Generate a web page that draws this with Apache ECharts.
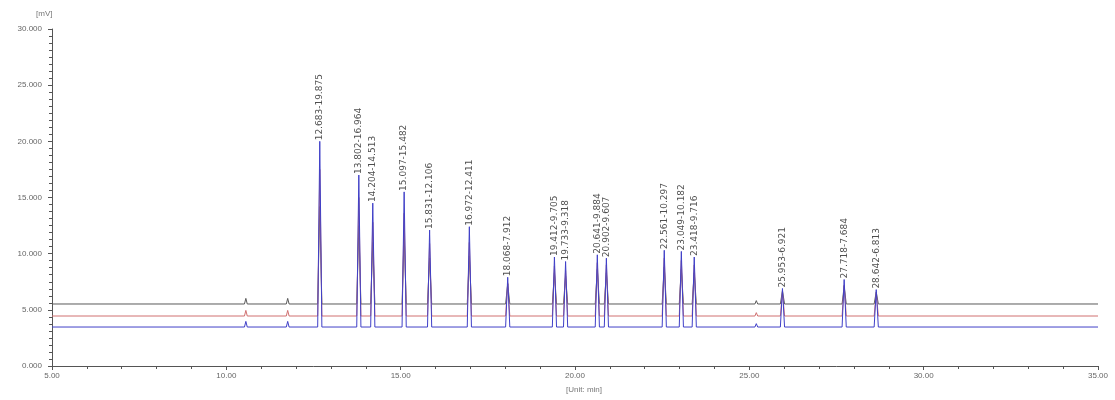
<!DOCTYPE html>
<html><head><meta charset="utf-8">
<script src="https://cdn.jsdelivr.net/npm/echarts@6/dist/echarts.min.js"></script>
<style>html,body{margin:0;padding:0;background:#fff}#c{width:1115px;height:400px}</style>
</head><body><div id="c"></div>
<script>
// retention times (min) of labelled peaks
const peakTimes = [12.68,13.80,14.20,15.10,15.83,16.97,18.07,19.41,19.73,20.64,20.90,22.56,23.05,23.42,25.95,27.72,28.64];
// apex signal (mV) per trace
const blueApex  = [20.0,17.0,14.5,15.5,12.1,12.4,7.9,9.7,9.3,9.9,9.6,10.3,10.2,9.7,6.9,7.7,6.8];
const redApex   = [17.5,15.0,12.8,13.6,10.9,11.0,7.4,8.9,8.5,9.2,9.0,9.6,9.4,9.0,6.6,7.2,6.5];
const blackApex = [14.2,12.5,11.0,11.8,9.6,9.8,7.3,8.3,8.0,8.6,8.3,8.8,8.6,8.3,6.7,7.1,6.6];
// peak labels
const peakLabels = ["12.683-19.875","13.802-16.964","14.204-14.513","15.097-15.482","15.831-12.106","16.972-12.411","18.068-7.912","19.412-9.705","19.733-9.318","20.641-9.884","20.902-9.607","22.561-10.297","23.049-10.182","23.418-9.716","25.953-6.921","27.718-7.684","28.642-6.813"];
// small unlabelled spikes
const smallTimes = [10.56,11.76,25.20];
const smallRise  = [0.5,0.5,0.3];
// baselines (mV)
const baseBlack = 5.52, baseRed = 4.45, baseBlue = 3.47;
const xTicks = [5,10,15,20,25,30,35];
const yTicks = [0,5,10,15,20,25,30];

function trace(base, apex){
  const ev = [];
  peakTimes.forEach((t,i)=>ev.push([t, apex[i], 0.06]));
  smallTimes.forEach((t,i)=>ev.push([t, base+smallRise[i], 0.04]));
  ev.sort((a,b)=>a[0]-b[0]);
  const d = [[xTicks[0], base]];
  ev.forEach(e=>{ d.push([e[0]-e[2], base]); d.push([e[0], e[1]]); d.push([e[0]+e[2], base]); });
  d.push([xTicks[xTicks.length-1], base]);
  return d;
}
const chart = echarts.init(document.getElementById('c'));
const lineS = (name, data, color) => ({type:'line', name, data, symbol:'none', lineStyle:{width:1, color}, animation:false, z:2});
chart.setOption({
  backgroundColor:'#fff',
  animation:false,
  grid:{left:52,right:17,top:29,bottom:34},
  xAxis:{type:'value',min:xTicks[0],max:xTicks[xTicks.length-1],interval:5,
    axisLine:{lineStyle:{color:'#555',width:1}},
    axisTick:{show:true,length:4,lineStyle:{color:'#555'}},
    minorTick:{show:true,splitNumber:5,length:3,lineStyle:{color:'#555'}},
    splitLine:{show:false},
    axisLabel:{color:'#666',fontSize:8,margin:6,formatter:v=>v.toFixed(2)}},
  yAxis:{type:'value',min:yTicks[0],max:yTicks[yTicks.length-1],interval:5,
    axisLine:{show:true,lineStyle:{color:'#555',width:1}},
    axisTick:{show:true,length:4,lineStyle:{color:'#555'}},
    minorTick:{show:true,splitNumber:8,length:3,lineStyle:{color:'#555'}},
    splitLine:{show:false},
    axisLabel:{color:'#666',fontSize:8,margin:10,formatter:v=>v.toFixed(3)}},
  graphic:[
    {type:'text',left:36,top:10,style:{text:'[mV]',fill:'#777',fontSize:8}},
    {type:'text',left:566,top:386,style:{text:'[Unit: min]',fill:'#777',fontSize:8}}
  ],
  series:[
    lineS('black', trace(baseBlack, blackApex), '#5a5a5a'),
    lineS('red', trace(baseRed, redApex), '#d07070'),
    lineS('blue', trace(baseBlue, blueApex), '#4040c8'),
    {type:'scatter',symbolSize:0,z:5,
     data:peakTimes.map((t,i)=>({value:[t, blueApex[i]], name:peakLabels[i]})),
     label:{show:true,position:'top',distance:1,rotate:90,align:'left',verticalAlign:'middle',
       formatter:p=>p.name,color:'#222',fontSize:9,fontFamily:'DejaVu Sans'}}
  ]
});
</script></body></html>
